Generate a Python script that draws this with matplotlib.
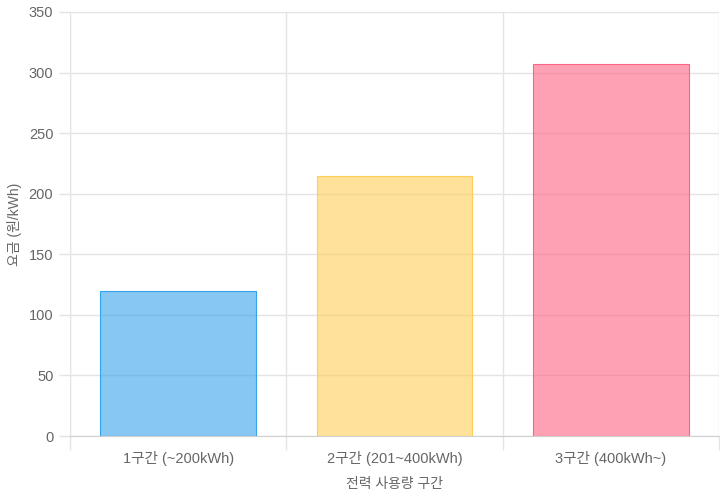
import matplotlib
matplotlib.use("Agg")
import matplotlib.pyplot as plt
import numpy as np

plt.rcParams["font.family"] = ["Liberation Sans", "Noto Sans CJK KR", "DejaVu Sans"]

categories = ["1구간 (~200kWh)", "2구간 (201~400kWh)", "3구간 (400kWh~)"]
rates = [120.0, 214.6, 307.3]
fill_colors = [(54/255, 162/255, 235/255, 0.6), (255/255, 206/255, 86/255, 0.6), (255/255, 99/255, 132/255, 0.6)]
edge_colors = [(54/255, 162/255, 235/255, 1.0), (255/255, 206/255, 86/255, 1.0), (255/255, 99/255, 132/255, 1.0)]
y_ticks = [0, 50, 100, 150, 200, 250, 300, 350]

grid_c = "#e4e4e4"
text_c = "#666666"

fig = plt.figure(figsize=(7.2, 5.0), dpi=100)
ax = fig.add_axes([70 / 720, 64 / 500, 649 / 720, 424 / 500])

x = np.arange(len(categories))
ax.bar(x, rates, width=0.72, color=fill_colors, edgecolor=edge_colors, linewidth=0.8, zorder=2)

ax.set_xlim(-0.5, len(categories) - 0.5)
ax.set_ylim(0, 350)
ax.set_yticks(y_ticks)
ax.set_xticks(x)
ax.set_xticklabels(categories)

# grid: horizontal at y ticks, vertical at category boundaries
for yv in y_ticks:
    ax.axhline(yv, color=grid_c, linewidth=1, zorder=1)
for xb in np.arange(-0.5, len(categories), 1.0):
    ax.axvline(xb, color=grid_c, linewidth=1, zorder=1)

ax.set_xticks(np.arange(-0.5, len(categories), 1.0), minor=True)
ax.tick_params(axis="x", which="major", length=0, pad=11, labelsize=10.5, colors=text_c)
ax.tick_params(axis="x", which="minor", length=10, width=1, color=grid_c)
ax.tick_params(axis="y", length=8, width=1, color=grid_c, pad=4, labelsize=10.5, labelcolor=text_c)

for s in ["top", "right"]:
    ax.spines[s].set_visible(False)
ax.spines["left"].set_color(grid_c)
ax.spines["bottom"].set_color("#d0d0d0")

ax.set_xlabel("전력 사용량 구간", fontsize=10, color=text_c, labelpad=8)
ax.set_ylabel("요금 (원/kWh)", fontsize=10, color=text_c, labelpad=5)

fig.savefig("out.png", dpi=100)
